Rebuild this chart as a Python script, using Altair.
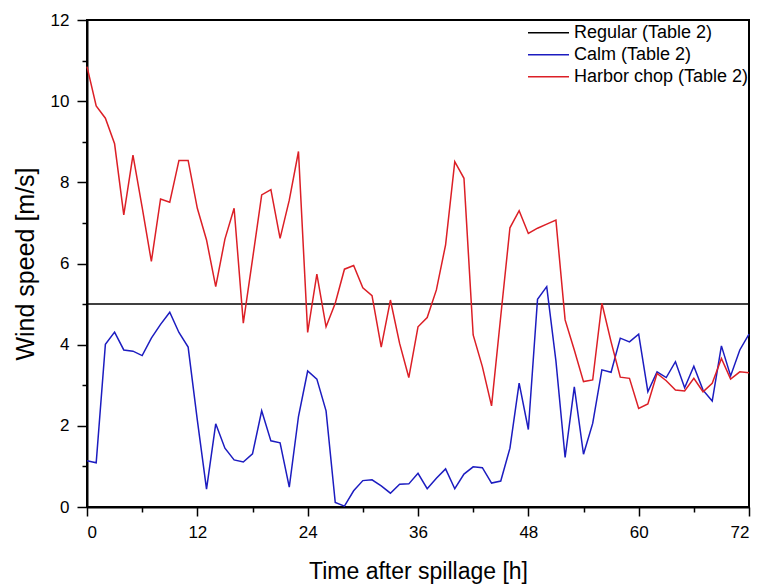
import altair as alt
import pandas as pd

hours = list(range(73))

calm = [1.14, 1.09, 4.01, 4.31, 3.87, 3.84, 3.73, 4.16, 4.5, 4.8, 4.3, 3.94,
        2.14, 0.44, 2.05, 1.45, 1.16, 1.11, 1.31, 2.37, 1.63, 1.58, 0.49, 2.23,
        3.35, 3.15, 2.37, 0.11, 0.02, 0.4, 0.65, 0.67, 0.52, 0.34, 0.56, 0.57,
        0.83, 0.45, 0.71, 0.94, 0.45, 0.81, 0.99, 0.97, 0.59, 0.64, 1.45, 3.05,
        1.91, 5.12, 5.43, 3.6, 1.22, 2.96, 1.3, 2.06, 3.38, 3.32, 4.16, 4.07,
        4.26, 2.84, 3.33, 3.19, 3.58, 2.94, 3.47, 2.88, 2.61, 3.97, 3.23, 3.87, 4.26]

harbor = [10.85, 9.88, 9.58, 8.95, 7.2, 8.67, 7.38, 6.05, 7.59, 7.51, 8.54, 8.54,
          7.36, 6.58, 5.43, 6.6, 7.36, 4.53, 6.1, 7.69, 7.82, 6.62, 7.56, 8.76,
          4.3, 5.74, 4.44, 5.02, 5.86, 5.95, 5.4, 5.21, 3.94, 5.1, 4.03, 3.19,
          4.44, 4.67, 5.35, 6.46, 8.51, 8.1, 4.24, 3.46, 2.49, 4.7, 6.88, 7.3,
          6.74, 6.87, 6.97, 7.07, 4.61, 3.87, 3.09, 3.13, 5.02, 4.07, 3.2, 3.17,
          2.43, 2.54, 3.29, 3.11, 2.88, 2.86, 3.17, 2.84, 3.05, 3.66, 3.15, 3.33, 3.31]

regular_hours = [0, 72]
regular = [5, 5]

series_names = ["Regular (Table 2)", "Calm (Table 2)", "Harbor chop (Table 2)"]
series_colors = ["#000000", "#1c1cc0", "#dc1f26"]

rows = []
for h, v in zip(regular_hours, regular):
    rows.append({"t": h, "v": v, "s": series_names[0], "o": 0})
for h, v in zip(hours, calm):
    rows.append({"t": h, "v": v, "s": series_names[1], "o": 1})
for h, v in zip(hours, harbor):
    rows.append({"t": h, "v": v, "s": series_names[2], "o": 2})
df = pd.DataFrame(rows)

FONT = "Liberation Sans, Arial, sans-serif"

chart = alt.Chart(df).mark_line(strokeWidth=1.5).encode(
    x=alt.X("t:Q", scale=alt.Scale(domain=[0, 72], nice=False, zero=False),
            axis=alt.Axis(
                title="Time after spillage [h]",
                values=list(range(0, 73, 6)),
                labelExpr="datum.value % 12 === 0 ? datum.label : ''",
                tickSize=alt.condition("datum.value % 12 !== 0", alt.value(5), alt.value(9)),
                labelPadding=8,
                titleFontSize=23,
                titleY=71,
                titleBaseline="alphabetic",
                grid=False,
            )),
    y=alt.Y("v:Q", scale=alt.Scale(domain=[0, 12], nice=False),
            axis=alt.Axis(
                title="Wind speed [m/s]",
                values=list(range(0, 13)),
                labelExpr="datum.value % 2 === 0 ? datum.label : ''",
                tickSize=alt.condition("datum.value % 2 !== 0", alt.value(5), alt.value(10)),
                labelPadding=8,
                titleFontSize=25,
                titleX=-62,
                titleY=243.5,
                titleAngle=-90,
                titleAlign="center",
                titleBaseline="middle",
                grid=False,
            )),
    color=alt.Color("s:N",
                    scale=alt.Scale(domain=series_names, range=series_colors),
                    legend=alt.Legend(
                        title=None,
                        orient="none",
                        legendX=440,
                        legendY=2,
                        symbolType="stroke",
                        symbolSize=1681,
                        symbolStrokeWidth=1.5,
                        labelFontSize=18,
                        labelFont=FONT,
                        labelColor="black",
                        labelOffset=4,
                        labelLimit=0,
                        clipHeight=21.5,
                        rowPadding=0,
                        padding=0,
                    )),
    order=alt.Order("o:Q"),
    detail="s:N",
).properties(
    width=662,
    height=487,
    autosize=alt.AutoSizeParams(type="none"),
    padding={"left": 79, "top": 12, "right": 4, "bottom": 77},
).configure_view(
    stroke="black", strokeWidth=2
).configure_axis(
    labelFont=FONT, titleFont=FONT, labelFontSize=17, labelColor="black",
    titleColor="black", titleFontWeight="normal",
    domainColor="black", domainWidth=2, tickColor="black", tickWidth=1.5,
)

chart.save("out.html", embed_options={"renderer": "svg", "actions": False})
